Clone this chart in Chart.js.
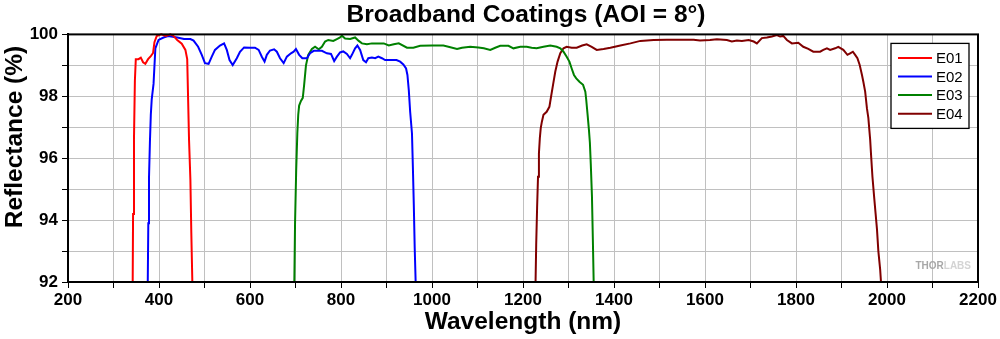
<!DOCTYPE html>
<html>
<head>
<meta charset="utf-8">
<title>Broadband Coatings (AOI = 8°)</title>
<script src="https://cdn.jsdelivr.net/npm/chart.js@4.4.1/dist/chart.umd.min.js"></script>
<style>
  html, body { margin: 0; padding: 0; background: #fff; }
  #wrap { width: 1000px; height: 339px; }
</style>
</head>
<body>
<div id="wrap"><canvas id="coatingChart" width="1000" height="339"></canvas></div>
<script>
// ── Data ──────────────────────────────────────────────────────────────────
const seriesNames = ['E01', 'E02', 'E03', 'E04'];
const seriesColors = ['#ff0000', '#0000ff', '#008000', '#800000'];

const e01Wavelength = [342, 343, 345, 347, 349, 355, 360, 365, 370, 376, 382, 387, 390, 395, 405, 415, 425, 432, 440, 450, 458, 462, 464, 466, 469, 471, 474];
const e01Reflectance = [91.5, 94.2, 96.6, 98.5, 99.2, 99.2, 99.25, 99.1, 99.05, 99.2, 99.3, 99.4, 99.75, 99.95, 100.0, 99.95, 100.0, 99.95, 99.82, 99.7, 99.5, 99.2, 97.9, 96.6, 95.3, 93.6, 91.5];

const e02Wavelength = [375, 376.5, 378, 380, 382, 384, 388, 392, 399, 410, 420, 440, 455, 469, 476, 486, 494, 501, 509, 516, 523, 534, 543, 549, 555, 562, 571, 578, 587, 600, 611, 619, 626, 632, 637, 644, 653, 659, 666, 674, 681, 690, 696, 701, 708, 715, 725, 732, 740, 758, 769, 778, 785, 791, 798, 805, 813, 820, 824, 831, 836, 842, 849, 855, 860, 868, 875, 882, 890, 897, 922, 930, 937, 943, 946, 949, 952, 956, 958, 960, 962, 965];
const e02Reflectance = [91.5, 93.9, 95.35, 96.5, 97.4, 97.9, 98.4, 99.55, 99.82, 99.9, 99.95, 99.9, 99.85, 99.85, 99.8, 99.6, 99.34, 99.07, 99.05, 99.28, 99.5, 99.64, 99.71, 99.5, 99.17, 99.01, 99.23, 99.44, 99.58, 99.57, 99.57, 99.5, 99.28, 99.12, 99.34, 99.48, 99.52, 99.44, 99.23, 99.07, 99.28, 99.39, 99.44, 99.53, 99.34, 99.23, 99.23, 99.39, 99.47, 99.47, 99.39, 99.37, 99.14, 99.28, 99.42, 99.45, 99.37, 99.23, 99.34, 99.55, 99.64, 99.5, 99.17, 99.1, 99.23, 99.25, 99.23, 99.28, 99.23, 99.17, 99.17, 99.12, 99.03, 98.9, 98.69, 98.2, 97.5, 96.8, 95.7, 94.5, 93.1, 91.5];

const e03Wavelength = [697, 699, 701.5, 704, 706, 708, 712, 716, 719, 723, 728, 736, 743, 751, 758, 765, 772, 783, 791, 798, 802, 809, 820, 831, 839, 846, 857, 868, 894, 905, 916, 927, 945, 959, 974, 1000, 1025, 1036, 1055, 1066, 1084, 1102, 1114, 1128, 1139, 1150, 1168, 1179, 1194, 1208, 1219, 1230, 1245, 1260, 1274, 1282, 1289, 1296, 1302, 1307, 1312, 1317, 1324, 1332, 1337, 1339, 1342, 1345, 1347, 1349, 1351.5, 1353.5, 1356];
const e03Reflectance = [91.5, 93.9, 95.6, 96.8, 97.4, 97.7, 97.85, 97.95, 98.37, 99.0, 99.34, 99.53, 99.6, 99.52, 99.6, 99.77, 99.82, 99.79, 99.85, 99.9, 99.96, 99.87, 99.85, 99.9, 99.79, 99.71, 99.68, 99.71, 99.71, 99.64, 99.68, 99.71, 99.57, 99.57, 99.63, 99.64, 99.64, 99.6, 99.53, 99.57, 99.6, 99.58, 99.55, 99.5, 99.57, 99.63, 99.63, 99.55, 99.6, 99.6, 99.57, 99.55, 99.6, 99.64, 99.6, 99.55, 99.44, 99.28, 99.12, 98.9, 98.69, 98.58, 98.47, 98.37, 98.15, 97.88, 97.4, 96.9, 96.5, 95.8, 94.8, 93.4, 91.5];

const e04Wavelength = [1227, 1229, 1231, 1233, 1235, 1237, 1239, 1241.5, 1245, 1252, 1258, 1261, 1266, 1271, 1276, 1282, 1289, 1296, 1307, 1318, 1330, 1340, 1351, 1362, 1377, 1392, 1414, 1436, 1458, 1487, 1516, 1575, 1589, 1611, 1626, 1648, 1659, 1670, 1681, 1696, 1707, 1714, 1725, 1736, 1747, 1758, 1765, 1772, 1780, 1791, 1805, 1816, 1827, 1838, 1853, 1860, 1868, 1875, 1886, 1893, 1904, 1913, 1919, 1925, 1930, 1935, 1940, 1945, 1948, 1952, 1956, 1959, 1961, 1963, 1965, 1968, 1972, 1975, 1978, 1981, 1985, 1989];
const e04Reflectance = [91.5, 93.2, 94.4, 95.4, 96.15, 96.65, 96.97, 97.18, 97.4, 97.5, 97.66, 97.93, 98.37, 98.8, 99.12, 99.39, 99.55, 99.6, 99.57, 99.57, 99.64, 99.68, 99.6, 99.5, 99.53, 99.57, 99.64, 99.71, 99.79, 99.82, 99.83, 99.83, 99.8, 99.82, 99.84, 99.82, 99.77, 99.8, 99.79, 99.82, 99.77, 99.71, 99.88, 99.9, 99.93, 99.98, 99.93, 99.95, 99.82, 99.71, 99.73, 99.6, 99.53, 99.44, 99.44, 99.5, 99.55, 99.5, 99.55, 99.6, 99.5, 99.34, 99.39, 99.44, 99.34, 99.23, 99.01, 98.69, 98.47, 98.15, 97.6, 97.3, 96.95, 96.6, 96.1, 95.4, 94.7, 94.2, 93.7, 93.0, 92.4, 91.5];

const xMin = 200, xMax = 2200, xStep = 100, xLabelEvery = 200;
const yMin = 92, yMax = 100, yStep = 1, yLabelEvery = 2;

const allWavelengths = [e01Wavelength, e02Wavelength, e03Wavelength, e04Wavelength];
const allReflectances = [e01Reflectance, e02Reflectance, e03Reflectance, e04Reflectance];

// ── Helpers ───────────────────────────────────────────────────────────────
const FONT = '"Liberation Sans", Arial, sans-serif';
const Y_TITLE = 'Reflectance (%)';

function toPoints(xs, ys) {
  return xs.map((x, i) => ({ x: x, y: ys[i] }));
}

const datasets = seriesNames.map((name, i) => ({
  label: name,
  data: toPoints(allWavelengths[i], allReflectances[i]),
  borderColor: seriesColors[i],
  backgroundColor: seriesColors[i],
  borderWidth: 2,
  pointRadius: 0,
  tension: 0,
  fill: false,
  clip: { left: 0, right: 0, top: 2, bottom: 0 }
}));

// ── Title centring, y title, frame, in-plot legend, watermark ─────────────
const framePlugin = {
  id: 'frame',
  afterLayout(chart) {
    // centre the title over the plot area rather than the whole canvas
    const a = chart.chartArea;
    if (chart.titleBlock) {
      chart.titleBlock.left = a.left + 3;
      chart.titleBlock.right = a.right + 3;
    }
  },
  afterDraw(chart) {
    const { ctx } = chart;
    ctx.save();
    ctx.translate(15.5, 137);
    ctx.rotate(-Math.PI / 2);
    ctx.font = 'bold 24.5px ' + FONT;
    ctx.fillStyle = '#000';
    ctx.textAlign = 'center';
    ctx.textBaseline = 'middle';
    ctx.fillText(Y_TITLE, 0, 0);
    ctx.restore();
  },
  afterDatasetsDraw(chart) {
    const { ctx, chartArea: a } = chart;
    ctx.save();
    ctx.strokeStyle = '#000';
    ctx.lineWidth = 2;
    ctx.strokeRect(a.left, a.top, a.right - a.left, a.bottom - a.top);

    // watermark
    ctx.font = 'bold 10px ' + FONT;
    ctx.textBaseline = 'middle';
    const wy = a.bottom - 16;
    const labsW = ctx.measureText('LABS').width;
    const thorW = ctx.measureText('THOR').width;
    const wx = a.right - 7 - labsW - thorW;
    ctx.fillStyle = '#a8a8a8';
    ctx.fillText('THOR', wx, wy);
    ctx.fillStyle = '#d4d4d4';
    ctx.fillText('LABS', wx + thorW, wy);

    // legend box
    const bw = 78, bh = 85;
    const bx = a.right - 9 - bw, by = a.top + 9;
    ctx.fillStyle = '#fff';
    ctx.fillRect(bx, by, bw, bh);
    ctx.strokeStyle = '#000';
    ctx.lineWidth = 1.3;
    ctx.strokeRect(bx, by, bw, bh);
    ctx.font = '15px ' + FONT;
    ctx.textBaseline = 'middle';
    chart.data.datasets.forEach((ds, i) => {
      const ry = by + 14.5 + i * 18.6;
      ctx.strokeStyle = ds.borderColor;
      ctx.lineWidth = 2;
      ctx.beginPath();
      ctx.moveTo(bx + 7, ry);
      ctx.lineTo(bx + 41, ry);
      ctx.stroke();
      ctx.fillStyle = '#000';
      ctx.fillText(ds.label, bx + 45, ry + 1);
    });
    ctx.restore();
  }
};

// ── Chart ─────────────────────────────────────────────────────────────────
new Chart(document.getElementById('coatingChart'), {
  type: 'line',
  data: { datasets: datasets },
  plugins: [framePlugin],
  options: {
    responsive: false,
    animation: false,
    layout: { padding: { left: 0, right: 22, top: 0, bottom: 0 } },
    plugins: {
      legend: { display: false },
      tooltip: { enabled: false },
      title: {
        display: true,
        text: 'Broadband Coatings (AOI = 8°)',
        color: '#000',
        font: { family: FONT, size: 24.5, weight: 'bold' },
        padding: { top: 1, bottom: 4 }
      }
    },
    scales: {
      x: {
        type: 'linear',
        min: xMin,
        max: xMax,
        afterFit: (s) => { s.height = 57; },
        border: { color: '#000', width: 2 },
        grid: { color: '#c0c0c0', lineWidth: 1, tickColor: '#000', tickLength: 6 },
        ticks: {
          stepSize: xStep,
          autoSkip: false,
          maxRotation: 0,
          padding: 2,
          color: '#000',
          font: { family: FONT, size: 17, weight: 'bold' },
          callback: (v) => (v % xLabelEvery === 0 ? v : '')
        },
        title: {
          display: true,
          text: 'Wavelength (nm)',
          color: '#000',
          font: { family: FONT, size: 24.5, weight: 'bold' },
          padding: { top: 0, bottom: 2.5 }
        }
      },
      y: {
        min: yMin,
        max: yMax,
        afterFit: (s) => { s.width = 68; },
        border: { color: '#000', width: 2 },
        grid: { color: '#c0c0c0', lineWidth: 1, tickColor: '#000', tickLength: 6 },
        ticks: {
          stepSize: yStep,
          autoSkip: false,
          padding: 4,
          color: '#000',
          font: { family: FONT, size: 17, weight: 'bold' },
          callback: (v) => (v % yLabelEvery === 0 ? v : '')
        },
        title: { display: false }
      }
    }
  }
});
</script>
</body>
</html>
